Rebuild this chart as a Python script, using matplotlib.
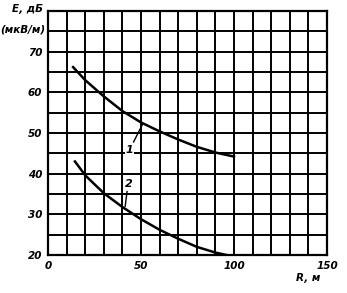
import matplotlib
matplotlib.use("Agg")
import matplotlib.pyplot as plt
import numpy as np

# Data
r1 = [13.5, 20, 30, 40, 50, 60, 70, 80, 90, 100]
e1 = [66.2, 63.0, 59.0, 55.4, 52.6, 50.4, 48.4, 46.6, 45.2, 44.2]
r2 = [14.5, 20, 30, 40, 50, 60, 70, 80, 90, 96]
e2 = [43.0, 39.6, 35.2, 31.8, 28.8, 26.2, 24.0, 22.0, 20.6, 20.0]
xticks = [0, 50, 100, 150]
yticks = [20, 30, 40, 50, 60, 70]

fig = plt.figure(figsize=(3.47, 2.93), dpi=100)
ax = fig.add_axes([48/347, 1-255/293, (327-48)/347, (255-11)/293])
ax.set_xlim(0, 150)
ax.set_ylim(20, 80)

for x in np.arange(0, 151, 10):
    ax.axvline(x, color='black', lw=1.4, zorder=1)
for y in np.arange(20, 81, 5):
    ax.axhline(y, color='black', lw=1.4, zorder=1)

ax.plot(r1, e1, color='black', lw=1.8, zorder=3)
ax.plot(r2, e2, color='black', lw=1.8, zorder=3)

fs = dict(fontsize=8, fontstyle='italic', fontweight='bold', family='DejaVu Sans Condensed')
bb = dict(facecolor='white', edgecolor='none', pad=0.5)
ax.text(44, 45.8, '1', ha='center', va='center', bbox=bb, zorder=4, **fs)
ax.plot([46, 51], [47.8, 52.3], color='black', lw=1, zorder=4)
ax.text(43.5, 37.5, '2', ha='center', va='center', bbox=bb, zorder=4, **fs)
ax.plot([42.5, 41.5], [35.6, 32.0], color='black', lw=1, zorder=4)

for s in ax.spines.values():
    s.set_linewidth(1.6)
ax.set_xticks(xticks)
ax.set_yticks(yticks)
ax.tick_params(length=0, pad=4)
for lab in ax.get_xticklabels() + ax.get_yticklabels():
    lab.set_fontsize(7.5)
    lab.set_fontstyle('italic')
    lab.set_fontweight('bold')
    lab.set_family('DejaVu Sans Condensed')

fs2 = dict(fs, fontsize=7.5)
fig.text(28/347, 1-9/293, 'E, дБ', ha='center', va='center', **fs2)
fig.text(23/347, 1-30/293, '(мкВ/м)', ha='center', va='center', **fs2)
fig.text(308/347, 1-278/293, 'R, м', ha='center', va='center', **fs2)

fig.savefig('out.png', dpi=100)
